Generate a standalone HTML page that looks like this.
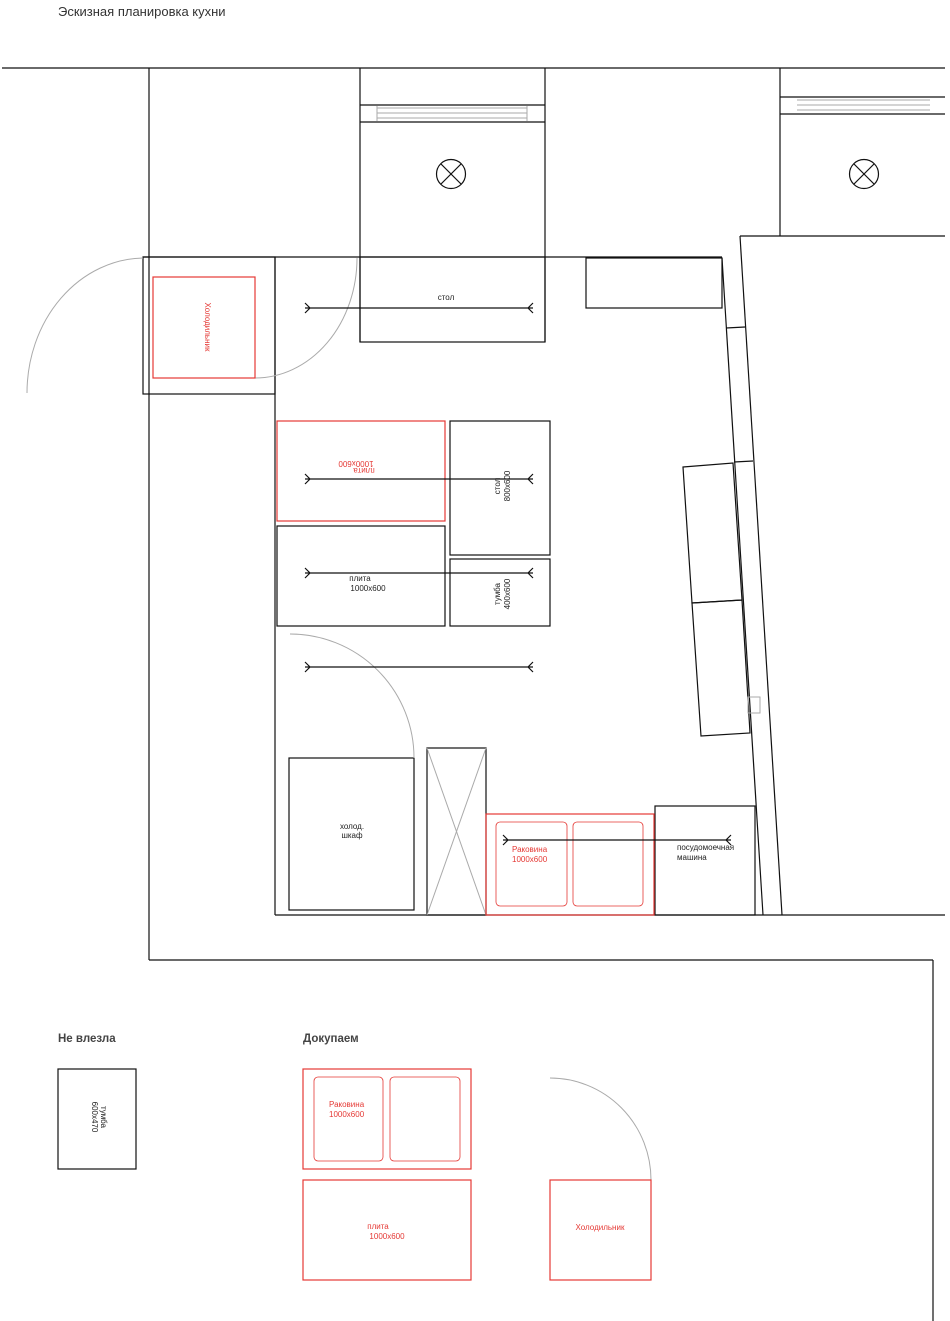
<!DOCTYPE html>
<html><head><meta charset="utf-8"><style>
html,body{margin:0;padding:0;background:#fff;}
svg{display:block;font-family:"Liberation Sans","DejaVu Sans",sans-serif;}
</style></head><body>
<svg width="950" height="1321" viewBox="0 0 950 1321" xmlns="http://www.w3.org/2000/svg">
<text x="58" y="16" font-size="13" fill="#333">Эскизная планировка кухни</text>
<g stroke="#111" stroke-width="1.2" fill="none">
<line x1="2" y1="68" x2="945" y2="68"/>
<line x1="149" y1="68" x2="149" y2="960"/>
<line x1="149" y1="960" x2="933" y2="960"/>
<line x1="933" y1="960" x2="933" y2="1321"/>
<!-- window 1 -->
<line x1="360" y1="68" x2="360" y2="342"/>
<line x1="545" y1="68" x2="545" y2="342"/>
<line x1="360" y1="105" x2="545" y2="105"/>
<line x1="360" y1="122" x2="545" y2="122"/>
<circle cx="451" cy="174" r="14.5"/>
<line x1="441" y1="164" x2="461" y2="184"/><line x1="461" y1="164" x2="441" y2="184"/>
<!-- window 2 -->
<line x1="780" y1="68" x2="780" y2="236"/>
<line x1="780" y1="97" x2="945" y2="97"/>
<line x1="780" y1="114" x2="945" y2="114"/>
<line x1="740" y1="236" x2="945" y2="236"/>
<circle cx="864" cy="174" r="14.5"/>
<line x1="854" y1="164" x2="874" y2="184"/><line x1="874" y1="164" x2="854" y2="184"/>
<!-- kitchen walls -->
<line x1="143" y1="257" x2="722" y2="257"/>
<rect x="143" y="257" width="132" height="137"/>
<line x1="275" y1="257" x2="275" y2="915"/>
<line x1="275" y1="915" x2="945" y2="915"/>
<line x1="722" y1="258" x2="763" y2="915"/>
<line x1="740" y1="236" x2="782" y2="915"/>
<line x1="726" y1="328" x2="745" y2="327"/>
<line x1="734" y1="462" x2="753" y2="461"/>
<rect x="360" y="257" width="185" height="85"/>
<rect x="586" y="258" width="136" height="50"/>
<polygon points="683,467 733,463 742,600 692,603"/>
<polygon points="692,603 742,600 750,733 701,736"/>
<rect x="450" y="421" width="100" height="134"/>
<rect x="277" y="526" width="168" height="100"/>
<rect x="450" y="559" width="100" height="67"/>
<rect x="289" y="758" width="125" height="152"/>
<rect x="427" y="748" width="59" height="167"/>
<rect x="655" y="806" width="100" height="109"/>
<rect x="58" y="1069" width="78" height="100"/>
</g>
<g stroke="#aaa" stroke-width="1" fill="none">
<line x1="377" y1="108" x2="527" y2="108"/><line x1="377" y1="113" x2="527" y2="113"/><line x1="377" y1="118" x2="527" y2="118"/>
<line x1="377" y1="106" x2="377" y2="121"/><line x1="527" y1="106" x2="527" y2="121"/>
<line x1="797" y1="100" x2="930" y2="100"/><line x1="797" y1="105" x2="930" y2="105"/><line x1="797" y1="110" x2="930" y2="110"/>
<path d="M143 258 A118 135 0 0 0 27 393"/>
<path d="M357 258 A102 120 0 0 1 255 378"/>
<path d="M290 634 A124 124 0 0 1 414 758"/>
<line x1="427" y1="748" x2="486" y2="915"/><line x1="486" y1="748" x2="427" y2="915"/>
<rect x="748" y="697" width="12" height="16"/>
<path d="M550 1078 A101 102 0 0 1 651 1180"/>
</g>
<g stroke="#e53935" stroke-width="1.2" fill="none">
<rect x="153" y="277" width="102" height="101"/>
<rect x="277" y="421" width="168" height="100"/>
<rect x="486" y="814" width="168" height="101"/>
<rect x="496" y="822" width="71" height="84" rx="4" stroke-width="0.8"/>
<rect x="573" y="822" width="70" height="84" rx="4" stroke-width="0.8"/>
<rect x="303" y="1069" width="168" height="100"/>
<rect x="314" y="1077" width="69" height="84" rx="4" stroke-width="0.8"/>
<rect x="390" y="1077" width="70" height="84" rx="4" stroke-width="0.8"/>
<rect x="303" y="1180" width="168" height="100"/>
<rect x="550" y="1180" width="101" height="100"/>
</g>
<g stroke="#111" stroke-width="1.2" fill="none">
<path d="M305 308 H533 M305 303 l5 5 l-5 5 M533 303 l-5 5 l5 5"/>
<path d="M305 479 H533 M305 474 l5 5 l-5 5 M533 474 l-5 5 l5 5"/>
<path d="M305 573 H533 M305 568 l5 5 l-5 5 M533 568 l-5 5 l5 5"/>
<path d="M305 667 H533 M305 662 l5 5 l-5 5 M533 662 l-5 5 l5 5"/>
<path d="M503 840 H731 M503 835 l5 5 l-5 5 M731 835 l-5 5 l5 5"/>
</g>
<g font-size="8" fill="#222">
<text x="446" y="300" text-anchor="middle">стол</text>
<text x="360" y="581" text-anchor="middle">плита</text>
<text x="368" y="591" text-anchor="middle">1000x600</text>
<text x="352" y="829" text-anchor="middle">холод.</text>
<text x="352" y="838" text-anchor="middle">шкаф</text>
<text x="677" y="850">посудомоечная</text>
<text x="677" y="860">машина</text>
<text transform="translate(500,486) rotate(-90)" text-anchor="middle">стол</text>
<text transform="translate(510,486) rotate(-90)" text-anchor="middle">800x600</text>
<text transform="translate(500,594) rotate(-90)" text-anchor="middle">тумба</text>
<text transform="translate(510,594) rotate(-90)" text-anchor="middle">400x600</text>
<text transform="translate(101,1117) rotate(90)" text-anchor="middle">тумба</text>
<text transform="translate(92,1117) rotate(90)" text-anchor="middle">600x470</text>
</g>
<g font-size="8" fill="#e53935">
<text transform="translate(205,327) rotate(90)" text-anchor="middle">Холодильник</text>
<text transform="translate(356,461) rotate(180)" text-anchor="middle">1000x600</text>
<text transform="translate(364,468) rotate(180)" text-anchor="middle">плита</text>
<text x="512" y="852">Раковина</text>
<text x="512" y="862">1000x600</text>
<text x="329" y="1107">Раковина</text>
<text x="329" y="1117">1000x600</text>
<text x="378" y="1229" text-anchor="middle">плита</text>
<text x="387" y="1239" text-anchor="middle">1000x600</text>
<text x="600" y="1230" text-anchor="middle">Холодильник</text>
</g>
<text x="58" y="1042" font-size="11.5" font-weight="bold" fill="#444">Не влезла</text>
<text x="303" y="1042" font-size="11.5" font-weight="bold" fill="#444">Докупаем</text>
</svg>
</body></html>
